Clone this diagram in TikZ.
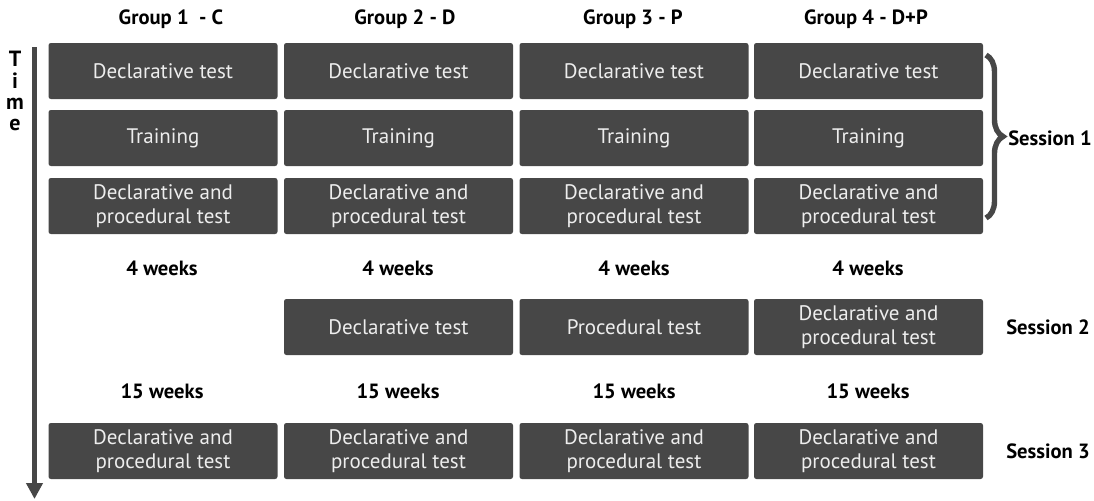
\documentclass[tikz,border=0pt]{standalone}
\usepackage{fontspec}
\setmainfont{PT Sans}
\usepackage{xcolor}
\usetikzlibrary{arrows.meta,decorations.pathreplacing}
\definecolor{boxgray}{HTML}{474747}
\definecolor{boxtext}{HTML}{EDEDED}

\begin{document}
\begin{tikzpicture}[x=0.5pt,y=-0.5pt,
    stagebox/.style={rectangle, rounded corners=1.2pt, fill=boxgray, text=boxtext,
      minimum width=114.5pt, minimum height=28pt, inner sep=0pt, align=center,
      font=\fontsize{10.5}{12}\selectfont},
    boldlabel/.style={font=\bfseries\fontsize{10.3}{12}\selectfont, inner sep=0pt},
    timearrow/.style={draw=boxgray, line width=2.5pt, -{Triangle[width=8pt,length=8pt]}},
    sessionbrace/.style={draw=boxgray, line width=2.7pt, decorate,
      decoration={brace, amplitude=8.5pt}}]
    \useasboundingbox (0,0) rectangle (1094,500);
    % group headers
    \node[boldlabel] (head1) at (171,19) {Group 1 \ - C};
    \node[boldlabel] (head2) at (405,19) {Group 2 - D};
    \node[boldlabel] (head3) at (633,19) {Group 3 - P};
    \node[boldlabel] (head4) at (866,19) {Group 4 - D+P};
    % time axis
    \node[boldlabel, align=center, anchor=north, font=\bfseries\fontsize{11}{10.6}\selectfont] (timeword) at (15,51) {T\\i\\m\\e};
    \coordinate (timetop) at (34.5,47);
    \coordinate (timeend) at (34.5,499);
    \draw[timearrow] (timetop) -- (timeend);
    % session 1
    \node[stagebox] (g1decl) at (163,71) {Declarative test};
    \node[stagebox] (g2decl) at (398.5,71) {Declarative test};
    \node[stagebox] (g3decl) at (634,71) {Declarative test};
    \node[stagebox] (g4decl) at (868.5,71) {Declarative test};
    \node[stagebox] (g1train) at (163,138) {Training};
    \node[stagebox] (g2train) at (398.5,138) {Training};
    \node[stagebox] (g3train) at (634,138) {Training};
    \node[stagebox] (g4train) at (868.5,138) {Training};
    \node[stagebox] (g1both) at (163,206) {Declarative and\\procedural test};
    \node[stagebox] (g2both) at (398.5,206) {Declarative and\\procedural test};
    \node[stagebox] (g3both) at (634,206) {Declarative and\\procedural test};
    \node[stagebox] (g4both) at (868.5,206) {Declarative and\\procedural test};
    \coordinate (bracetop) at (986,55);
    \coordinate (bracebot) at (986,218);
    \draw[sessionbrace] (bracetop) -- (bracebot);
    \node[boldlabel] (sess1) at (1050,138) {Session 1};
    % 4 weeks
    \node[boldlabel] (wait1a) at (162,268) {4 weeks};
    \node[boldlabel] (wait1b) at (398,268) {4 weeks};
    \node[boldlabel] (wait1c) at (634,268) {4 weeks};
    \node[boldlabel] (wait1d) at (868,268) {4 weeks};
    % session 2
    \node[stagebox] (g2late) at (398.5,327) {Declarative test};
    \node[stagebox] (g3late) at (634,327) {Procedural test};
    \node[stagebox] (g4late) at (868.5,327) {Declarative and\\procedural test};
    \node[boldlabel] (sess2) at (1048,327) {Session 2};
    % 15 weeks
    \node[boldlabel] (wait2a) at (162,391) {15 weeks};
    \node[boldlabel] (wait2b) at (398,391) {15 weeks};
    \node[boldlabel] (wait2c) at (634,391) {15 weeks};
    \node[boldlabel] (wait2d) at (868,391) {15 weeks};
    % session 3
    \node[stagebox] (g1final) at (163,451) {Declarative and\\procedural test};
    \node[stagebox] (g2final) at (398.5,451) {Declarative and\\procedural test};
    \node[stagebox] (g3final) at (634,451) {Declarative and\\procedural test};
    \node[stagebox] (g4final) at (868.5,451) {Declarative and\\procedural test};
    \node[boldlabel] (sess3) at (1048,451) {Session 3};
  \end{tikzpicture}
\end{document}
